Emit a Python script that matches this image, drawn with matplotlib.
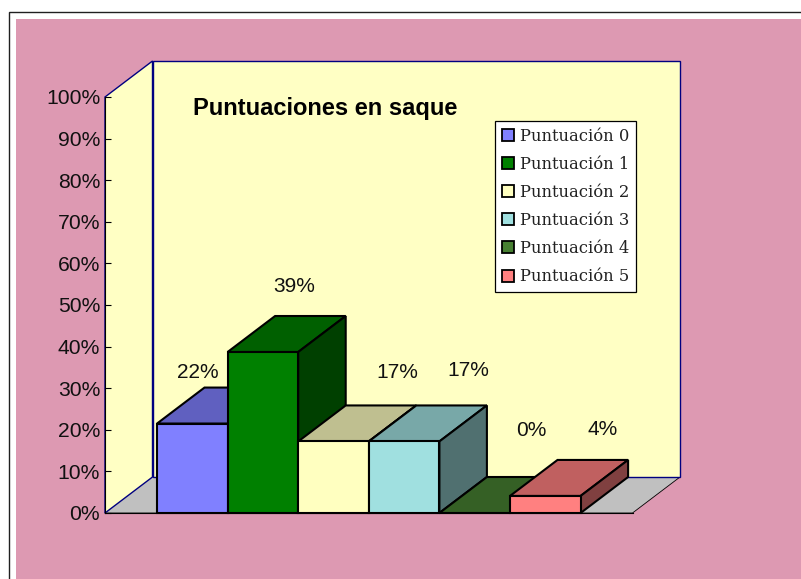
import matplotlib
matplotlib.use("Agg")
import matplotlib.pyplot as plt
from matplotlib.patches import Patch, Polygon, Rectangle

categories = ["Puntuación 0", "Puntuación 1", "Puntuación 2",
              "Puntuación 3", "Puntuación 4", "Puntuación 5"]
values = [21.5, 38.7, 17.2, 17.2, 0.0, 4.1]
labels = ["22%", "39%", "17%", "17%", "0%", "4%"]
yticks = list(range(0, 101, 10))
title = "Puntuaciones en saque"

colors = ["#8080FF", "#008000", "#FFFFC0", "#A0E0E0", "#478032", "#FF8080"]
tops = ["#6060C0", "#006000", "#BFBF90", "#78A8A8", "#356025", "#C06060"]
sides = ["#404080", "#004000", "#808060", "#507070", "#244018", "#804040"]

W, H = 801, 579
PINK = "#DD99B2"
WALL = "#FFFFC4"
NAVY = "#000080"

plt.rcParams["font.family"] = ["Liberation Sans", "DejaVu Sans"]
fig = plt.figure(figsize=(W / 100, H / 100), dpi=100, facecolor="white")


def box(x0, y0, x1, y1, **kw):
    # pixel box, y counted from the top
    fig.add_artist(Rectangle((x0 / W, 1 - y1 / H), (x1 - x0) / W, (y1 - y0) / H,
                             transform=fig.transFigure, zorder=-5, **kw))


box(8.5, 11.5, 806, 585, facecolor="white", edgecolor="#202020", linewidth=1)
box(16, 19, 806, 585, facecolor=PINK, edgecolor="none")

# axes = front plane of the 3d box
left, right, bottom, top = 105, 632.5, 513, 97
ax = fig.add_axes([left / W, 1 - bottom / H, (right - left) / W, (bottom - top) / H])
ax.patch.set_visible(False)
bar_w = 70.6
ax.set_xlim(-0.5 - (157 - left) / bar_w, 5.5 + (right - 580.6) / bar_w)
ax.set_ylim(0, 100)
x0, x1 = ax.get_xlim()
dx = 47.5 / bar_w
dy = 36 / 4.16


def poly(pts, fc, ec="black", lw=1.0, z=2):
    ax.add_patch(Polygon(pts, closed=True, facecolor=fc, edgecolor=ec, linewidth=lw,
                         zorder=z, clip_on=False, joinstyle="miter"))


# floor and walls
poly([(x0, 0), (x1, 0), (x1 + dx, dy), (x0 + dx, dy)], "#C0C0C0", ec="none", z=1)
ax.plot([x0, x1, x1 + dx], [0, 0, dy], color="black", lw=0.6, zorder=1, clip_on=False)
poly([(x0, 0), (x0 + dx, dy), (x0 + dx, 100 + dy), (x0, 100)], WALL, ec=NAVY, z=1)
poly([(x0 + dx, dy), (x1 + dx, dy), (x1 + dx, 100 + dy), (x0 + dx, 100 + dy)], WALL, ec=NAVY, z=1)

# bars left to right, each one covers the side of the one before
for i, v in enumerate(values):
    a, b = i - 0.5, i + 0.5
    lw = 1.5
    poly([(a, v), (b, v), (b + dx, v + dy), (a + dx, v + dy)], tops[i], lw=lw, z=3 + i)
    if v > 0:
        poly([(b, 0), (b + dx, dy), (b + dx, v + dy), (b, v)], sides[i], lw=lw, z=3 + i)
        poly([(a, 0), (b, 0), (b, v), (a, v)], colors[i], lw=lw, z=3 + i)

# data labels were placed by hand in the original
label_dx = [6, 31, 64, 64, 57, 57]
label_dy = [51, 66, 69, 71, 83, 66]
for i, v in enumerate(values):
    ax.annotate(labels[i], (i, v), xytext=(label_dx[i] * 0.72, label_dy[i] * 0.72),
                textcoords="offset points", ha="center", va="center",
                fontsize=15, color="#111111", zorder=20, annotation_clip=False)

ax.set_xticks([])
ax.set_yticks(yticks)
ax.set_yticklabels([f"{t}%" for t in yticks], fontsize=15.2, color="#111111")
ax.tick_params(axis="y", direction="in", length=4, width=0.8, pad=3.5, color="black")
for s in ["top", "right"]:
    ax.spines[s].set_visible(False)
ax.spines["left"].set_linewidth(0.8)
ax.spines["bottom"].set_linewidth(0.8)
ax.spines["left"].set_zorder(2.5)

fig.text(193 / W, 1 - 109 / H, title, fontsize=17, fontweight="bold", va="center", color="black", zorder=30)

handles = [Patch(facecolor=c, edgecolor="black", linewidth=1.3) for c in colors]
leg = ax.legend(handles, categories, loc="upper left",
                bbox_to_anchor=(495 / W, 1 - 121 / H), bbox_transform=fig.transFigure,
                prop={"family": "DejaVu Serif", "size": 11.8}, fancybox=False,
                framealpha=1, facecolor="white", edgecolor="black", labelcolor="#222222",
                handlelength=0.75, handleheight=0.75, handletextpad=0.36,
                labelspacing=0.68, borderpad=0.4, borderaxespad=0)
leg.set_zorder(25)
leg.get_frame().set_linewidth(0.9)

fig.savefig("out.png", dpi=100, facecolor="white")
